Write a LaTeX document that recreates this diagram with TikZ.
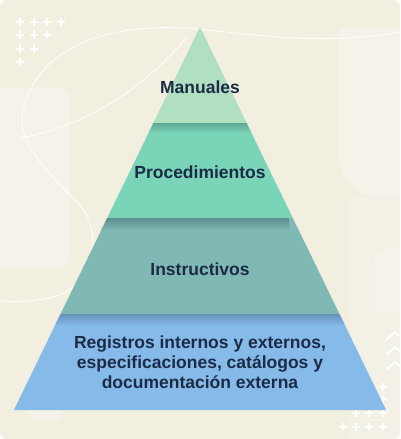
\documentclass[tikz,border=0pt]{standalone}
\usepackage{fontspec}
\setmainfont{Liberation Sans}

\definecolor{cardbg}{HTML}{F2EFE0}
\definecolor{cardlight}{HTML}{F5F3E9}
\definecolor{cardmid}{HTML}{F3F1E5}
\definecolor{layerman}{HTML}{B0DFC1}
\definecolor{layerproc}{HTML}{79D4B8}
\definecolor{layerinst}{HTML}{80B8B4}
\definecolor{layerreg}{HTML}{86BAE9}
\definecolor{shadeproc}{HTML}{5EA893}
\definecolor{shadeinst}{HTML}{5F8F8E}
\definecolor{shadereg}{HTML}{6894BC}
\definecolor{ink}{HTML}{1C2B45}

\begin{document}
\begin{tikzpicture}[x=1pt, y=-1pt,
    layertext/.style={font=\fontsize{17.5}{20}\selectfont\bfseries, text=ink, align=center},
    plusmark/.style={white, line width=2pt},
    swirl/.style={white, line width=0.8pt}]
  \useasboundingbox (0,0) rectangle (400,439);

  % card
  \fill[white] (0,0) rectangle (400,439);
  \fill[cardbg, rounded corners=7pt] (0,0) rectangle (400,439);
  \begin{scope}
    \clip[rounded corners=7pt] (0,0) rectangle (400,439);
    % faint background shapes
    \fill[cardlight, rounded corners=12pt] (-20,88) rectangle (70,268);
    \fill[cardlight, rounded corners=8pt] (27,395) rectangle (63,420);
    \fill[cardmid] (350,197) rectangle (420,460);
    \fill[cardlight] (339,28) -- (420,28) -- (420,197) -- (380,197)
      .. controls (357,197) and (339,179) .. (339,156) -- cycle;
    \fill[cardlight, rounded corners=10pt] (375,250) rectangle (420,313);
    % white lines
    \draw[swirl] (400,32) .. controls (330,45) and (260,36) .. (200,29)
      .. controls (120,22) and (40,40) .. (23,110)
      .. controls (15,150) and (60,180) .. (85,212)
      .. controls (100,238) and (95,278) .. (62,294)
      .. controls (42,302) and (15,302) .. (0,301);
    \draw[swirl] (187,37) .. controls (150,82) and (90,126) .. (20,138);
    % chevrons
    \foreach \cy in {332,347,362}
      \draw[swirl, line width=1.8pt] (386,\cy+8) -- (395,\cy) -- (404,\cy+8);
  \end{scope}

  % plus marks
  \foreach \px/\py in {20/22,33.5/22,47/22,60.5/22,20/35,33.5/35,47/35,20/49,33.5/49,20/62,
                       383/387,369/399,383/399,356/413,369/413,383/413,343/427,356/427,369/427,383/427}
    \draw[plusmark] (\px-4,\py) -- (\px+4,\py) (\px,\py-4) -- (\px,\py+4);

  % pyramid corners
  \coordinate (apex) at (200,27);
  \coordinate (l1) at (153.4,123); \coordinate (r1) at (246.6,123);
  \coordinate (l2) at (107.2,218); \coordinate (r2) at (292.8,218);
  \coordinate (l3) at (60.5,314);  \coordinate (r3) at (339.5,314);
  \coordinate (l4) at (13.9,410);  \coordinate (r4) at (386.1,410);

  % layers
  \fill[layerman] (apex) -- (r1) -- (l1) -- cycle;
  \fill[layerproc] (l1) -- (r1) -- (r2) -- (l2) -- cycle;
  \fill[layerinst] (l2) -- (r2) -- (r3) -- (l3) -- cycle;
  \fill[layerreg] (l3) -- (r3) -- (r4) -- (l4) -- cycle;

  % shadows under each step
  \begin{scope}
    \clip (l1) -- (r1) -- (r2) -- (l2) -- cycle;
    \shade[top color=shadeproc, bottom color=layerproc] (140,123) rectangle (260,133);
  \end{scope}
  \begin{scope}
    \clip (l2) -- (r2) -- (r3) -- (l3) -- cycle;
    \shade[top color=shadeinst, bottom color=layerinst] (100,218) rectangle (289,231);
  \end{scope}
  \begin{scope}
    \clip (l3) -- (r3) -- (r4) -- (l4) -- cycle;
    \shade[top color=shadereg, bottom color=layerreg] (55,314) rectangle (345,326);
  \end{scope}

  % texts
  \node[layertext] (manuales) at (200,87) {Manuales};
  \node[layertext] (procedimientos) at (200,172) {Procedimientos};
  \node[layertext] (instructivos) at (200,269) {Instructivos};
  \node[layertext] (registros) at (200,362) {Registros internos y externos,\\especificaciones, catálogos y\\documentación externa};
\end{tikzpicture}
\end{document}
